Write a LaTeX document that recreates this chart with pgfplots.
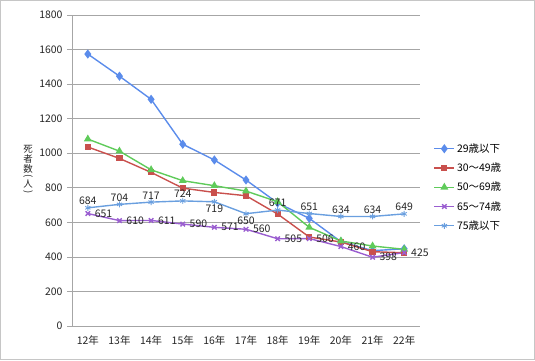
\documentclass[border=0pt]{standalone}
\usepackage{pgfplots}
\pgfplotsset{compat=1.18}
\usepackage{fontspec}
\setmainfont{Noto Sans CJK JP}
\definecolor{cA}{HTML}{5B8CEB}
\definecolor{cB}{HTML}{C9504D}
\definecolor{cC}{HTML}{5FCB5A}
\definecolor{cD}{HTML}{9A5ED0}
\definecolor{cE}{HTML}{6A9FDF}
\begin{document}
\begin{tikzpicture}[x=1bp,y=1bp]
\useasboundingbox (0,0) rectangle (535,360);
\draw[gray!45] (0.5,0.5) rectangle (534.5,359.5);
\begin{axis}[
  at={(72bp,34bp)}, anchor=south west,
  width=348bp, height=311bp, scale only axis,
  xmin=-0.5, xmax=10.5, ymin=0, ymax=1800,
  ytick={0,200,...,1800},
  xtick={0,...,10},
  xticklabels={12年,13年,14年,15年,16年,17年,18年,19年,20年,21年,22年},
  minor xtick={-0.5,0.5,...,10.5},
  axis x line*=bottom, axis y line*=left,
  axis line style={gray!70, line width=0.8pt},
  x axis line style={-}, y axis line style={-},
  ymajorgrids, major grid style={gray!70, line width=0.6pt},
  tick align=outside,
  xtick style={draw=none},
  minor x tick style={gray!70, line width=0.6pt},
  minor tick length=5bp,
  ytick style={gray!70, line width=0.6pt},
  major tick length=5bp,
  tick label style={font=\fontsize{10.5}{12}\selectfont, text=black!85},
  yticklabel style={xshift=-1bp},
  xticklabel style={yshift=-1bp},
  /pgf/number format/assume math mode=true,
  /pgf/number format/1000 sep={},
  clip=false,
  legend style={at={(1.03,0.6)}, anchor=north west, draw=none, fill=none,
    font=\fontsize{10.5}{12}\selectfont, row sep=5bp, legend cell align=left,
    /tikz/every even column/.append style={column sep=0bp}},
  legend image code/.code={
    \draw[mark repeat=2,mark phase=2] plot coordinates {(0bp,0bp) (10bp,0bp) (20bp,0bp)};},
  every axis plot/.append style={line width=1.4pt},
]
\addplot[color=cA, mark=diamond*, mark size=3.5pt, mark options={solid}] coordinates {
 (0,1574) (1,1446) (2,1312) (3,1052) (4,961) (5,845) (6,712) (7,623) (8,488) (9,436) (10,447)};
\addlegendentry{29歳以下}
\addplot[color=cB, mark=square*, mark size=2.4pt] coordinates {
 (0,1036) (1,970) (2,889) (3,798) (4,773) (5,754) (6,648) (7,515) (8,486) (9,430) (10,424)};
\addlegendentry{30～49歳}
\addplot[color=cC, mark=triangle*, mark size=3.2pt] coordinates {
 (0,1082) (1,1012) (2,904) (3,841) (4,812) (5,781) (6,719) (7,571) (8,492) (9,463) (10,444)};
\addlegendentry{50～69歳}
\addplot[color=cD, mark=x, mark size=3.2pt,
  nodes near coords, point meta=explicit symbolic,
  every node near coord/.append style={anchor=north west, xshift=3bp, yshift=8bp,
    font=\fontsize{10.5}{12}\selectfont, text=black!85}] table[meta=l] {
x y l
0 651 651
1 610 610
2 611 611
3 590 590
4 571 571
5 560 560
6 505 505
7 506 506
8 460 460
9 398 398
10 425 425
};
\addlegendentry{65～74歳}
\addplot[color=cE, mark=asterisk, mark size=3pt, mark options={line width=0.9pt},
  nodes near coords, point meta=explicit symbolic,
  visualization depends on={value \thisrow{a} \as \labanc},
  every node near coord/.append style={anchor=\labanc, inner sep=2.5bp,
    font=\fontsize{10.5}{12}\selectfont, text=black!85}] table[meta=l] {
x y l a
0 684 684 south
1 704 704 south
2 717 717 south
3 724 724 south
4 719 719 north
5 650 650 north
6 671 671 south
7 651 651 south
8 634 634 south
9 634 634 south
10 649 649 south
};
\addlegendentry{75歳以下}
\end{axis}
\begin{scope}[every node/.style={font=\fontsize{9.5}{10}\selectfont, inner sep=0pt, text=black!85}]
\node at (28bp,211bp) {死};
\node at (28bp,201bp) {者};
\node at (28bp,191bp) {数};
\node[rotate=-90] at (28bp,183.5bp) {(};
\node at (28bp,176bp) {人};
\node[rotate=-90] at (28bp,168bp) {)};
\end{scope}
\end{tikzpicture}
\end{document}
